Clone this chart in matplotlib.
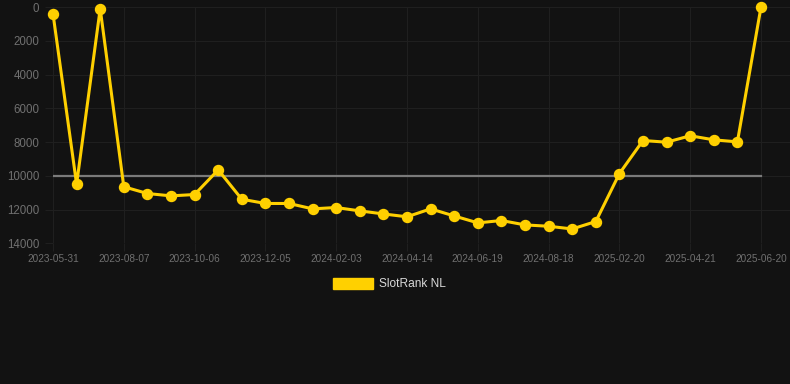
import numpy as np
import matplotlib
matplotlib.use('Agg')
from matplotlib import pyplot as plt
from matplotlib.patches import Patch

# one point per snapshot, evenly spaced on the x axis
dates = ['2023-05-31', '2023-06-22', '2023-07-15', '2023-08-07', '2023-08-27',
         '2023-09-16', '2023-10-06', '2023-10-26', '2023-11-15', '2023-12-05',
         '2023-12-25', '2024-01-14', '2024-02-03', '2024-02-26', '2024-03-20',
         '2024-04-14', '2024-05-06', '2024-05-28', '2024-06-19', '2024-07-09',
         '2024-07-29', '2024-08-18', '2024-09-30', '2024-12-20', '2025-02-20',
         '2025-03-12', '2025-04-01', '2025-04-21', '2025-05-11', '2025-05-31',
         '2025-06-20']
rank = [400, 10500, 100, 10650, 11050, 11190, 11110, 9650, 11390, 11640,
        11640, 11960, 11880, 12080, 12260, 12430, 11960, 12380, 12790, 12650,
        12910, 12990, 13150, 12710, 9870, 7910, 8010, 7630, 7870, 7990, 0]
series_name = 'SlotRank NL'
y_ticks = [0, 2000, 4000, 6000, 8000, 10000, 12000, 14000]

BG = '#121212'
GRID = '#1f1f1f'
TICK_COL = '#707070'
GOLD = '#FFD000'

plt.rcParams['font.family'] = ['Liberation Sans', 'DejaVu Sans']

fig = plt.figure(figsize=(7.9, 3.84), dpi=100, facecolor=BG)
ax = fig.add_axes([53 / 790, 1 - 243.3 / 384, 737 / 790, 236.3 / 384])
ax.set_facecolor(BG)

x = np.arange(len(rank))
avg = np.mean(rank)
ax.plot([x[0], x[-1]], [avg, avg], color='#7a7a7a', lw=1.6, zorder=2)
ax.plot(x, rank, color=GOLD, lw=2.2, marker='o', markersize=7.2,
        clip_on=False, zorder=3)

ax.set_xlim(0, 30 + 29 / 23.6)
ax.set_ylim(14000, 0)
ax.set_yticks(y_ticks)
ax.set_yticklabels([str(v) for v in y_ticks])
ax.set_xticks(x[::3])
ax.set_xticklabels([dates[i] for i in x[::3]])

ax.grid(True, color=GRID, lw=0.8)
ax.set_axisbelow(True)
for s in ax.spines.values():
    s.set_visible(False)
ax.tick_params(axis='y', length=5.8, width=0.8, color=GRID, colors=TICK_COL,
               labelsize=8.3, pad=4)
ax.tick_params(axis='x', length=5.8, width=0.8, color=GRID, colors=TICK_COL,
               labelsize=7.2, pad=2)
ax.tick_params(axis='both', color=GRID)

fig.legend(handles=[Patch(facecolor=GOLD, edgecolor=GOLD, label=series_name)],
           loc='center', bbox_to_anchor=(0.493, 0.26), frameon=False,
           fontsize=8.6, labelcolor='#d8d8d8', handlelength=3.33,
           handleheight=1.0, handletextpad=0.55)

fig.savefig('out.png', dpi=100, facecolor=BG)
